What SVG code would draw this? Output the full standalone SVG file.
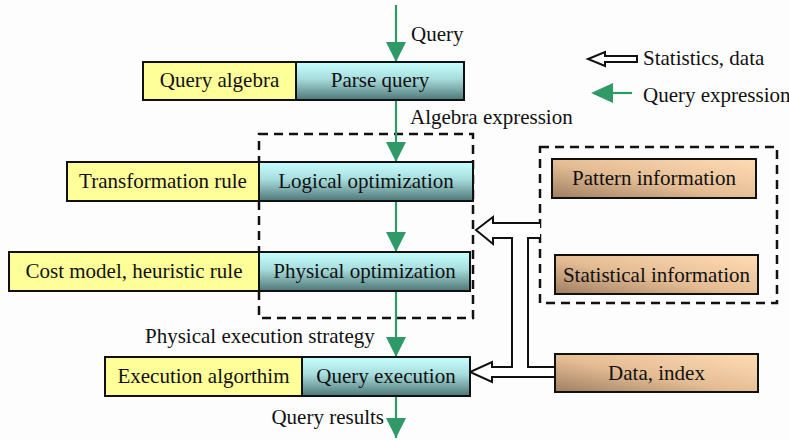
<svg xmlns="http://www.w3.org/2000/svg" width="789" height="440" viewBox="0 0 789 440">
  <defs>
    <linearGradient id="teal" x1="0" y1="0" x2="0" y2="1">
      <stop offset="0" stop-color="#c8ffff"/>
      <stop offset="0.45" stop-color="#a6dcdc"/>
      <stop offset="1" stop-color="#4f7676"/>
    </linearGradient>
    <linearGradient id="tan" x1="1" y1="0" x2="0" y2="1">
      <stop offset="0" stop-color="#ffdcb4"/>
      <stop offset="0.55" stop-color="#e4bc94"/>
      <stop offset="1" stop-color="#9e7e62"/>
    </linearGradient>
    <marker id="head" viewBox="0 0 20 20" refX="20" refY="10" markerWidth="20" markerHeight="20" markerUnits="userSpaceOnUse" orient="auto">
      <path d="M0,0 L20,10 L0,20 Z" fill="#2f9a68"/>
    </marker>
  </defs>
  <style>
    text { font-family: "Liberation Serif", "Times New Roman", serif; font-size: 21px; fill: #111; }
    .c { text-anchor: middle; }
    .yellow { fill: #ffff99; stroke: #111; stroke-width: 2; }
    .step { fill: url(#teal); stroke: #111; stroke-width: 2; }
    .info { fill: url(#tan); stroke: #111; stroke-width: 2; }
    .dash { fill: none; stroke: #111; stroke-width: 2.5; stroke-dasharray: 9 6; }
    .flow { fill: none; stroke: #2f9a68; stroke-width: 2.2; marker-end: url(#head); }
    .pipe { fill: #fff; stroke: #111; stroke-width: 2; stroke-linejoin: miter; }
  </style>

  <rect width="789" height="440" fill="#fdfdfd"/>

  <!-- optimizer and metadata frames -->
  <g id="optimizer-frame">
    <rect class="dash" x="259" y="134" width="214" height="184"/>
  </g>
  <g id="metadata-frame">
    <rect class="dash" x="540" y="147" width="237" height="156"/>
  </g>

  <!-- data flows -->
  <g id="connectors">
    <line class="flow" x1="396" y1="5" x2="396" y2="62"/>
    <line class="flow" x1="396" y1="100" x2="396" y2="162"/>
    <line class="flow" x1="396" y1="201" x2="396" y2="252"/>
    <line class="flow" x1="396" y1="291" x2="396" y2="357"/>
    <line class="flow" x1="396" y1="396" x2="396" y2="438"/>
    <!-- statistics / data supply pipe -->
    <path class="pipe" d="M540,223 H493 V217 L476,230 L493,244 V238 H512 V367 H492 V362 L470,372 L492,382 V377 H556 V367 H528 V238 H540"/>
  </g>

  <g id="query-algebra">
    <rect class="yellow" x="143" y="62" width="153" height="38"/>
    <text class="c" x="219.5" y="87">Query algebra</text>
  </g>
  <g id="parse-query">
    <rect class="step" x="296" y="62" width="168" height="38"/>
    <text class="c" x="380" y="87">Parse query</text>
  </g>

  <g id="transformation-rule">
    <rect class="yellow" x="67" y="162" width="192" height="39"/>
    <text class="c" x="163" y="188">Transformation rule</text>
  </g>
  <g id="logical-optimization">
    <rect class="step" x="259" y="162" width="214" height="39"/>
    <text class="c" x="366" y="188">Logical optimization</text>
  </g>

  <g id="cost-model">
    <rect class="yellow" x="9" y="252" width="250" height="39"/>
    <text class="c" x="134" y="278">Cost model, heuristic rule</text>
  </g>
  <g id="physical-optimization">
    <rect class="step" x="259" y="252" width="211" height="39"/>
    <text class="c" x="364.5" y="278">Physical optimization</text>
  </g>

  <g id="execution-algorithm">
    <rect class="yellow" x="105" y="357" width="197" height="39"/>
    <text class="c" x="203.5" y="383">Execution algorthim</text>
  </g>
  <g id="query-execution">
    <rect class="step" x="302" y="357" width="168" height="39"/>
    <text class="c" x="386" y="383">Query execution</text>
  </g>

  <g id="pattern-information">
    <rect class="info" x="552" y="159" width="204" height="39"/>
    <text class="c" x="654" y="185">Pattern information</text>
  </g>
  <g id="statistical-information">
    <rect class="info" x="555" y="255" width="203" height="39"/>
    <text class="c" x="656.5" y="282">Statistical information</text>
  </g>
  <g id="data-index">
    <rect class="info" x="555" y="354" width="203" height="38"/>
    <text class="c" x="656.5" y="380">Data, index</text>
  </g>

  <!-- flow labels -->
  <g id="labels">
    <text x="411" y="41">Query</text>
    <text x="410" y="124">Algebra expression</text>
    <text x="145" y="343">Physical execution strategy</text>
    <text x="384" y="424" text-anchor="end">Query results</text>
  </g>

  <!-- legend -->
  <g id="legend">
    <path class="pipe" d="M637,56 H605 V52 L588,59 L605,66 V62 H637 Z"/>
    <text x="643" y="65">Statistics, data</text>
    <line x1="613" y1="93" x2="632" y2="93" stroke="#2f9a68" stroke-width="2.2"/>
    <path d="M591,93 L613,83 L613,103 Z" fill="#2f9a68"/>
    <text x="643" y="102">Query expression</text>
  </g>
</svg>
